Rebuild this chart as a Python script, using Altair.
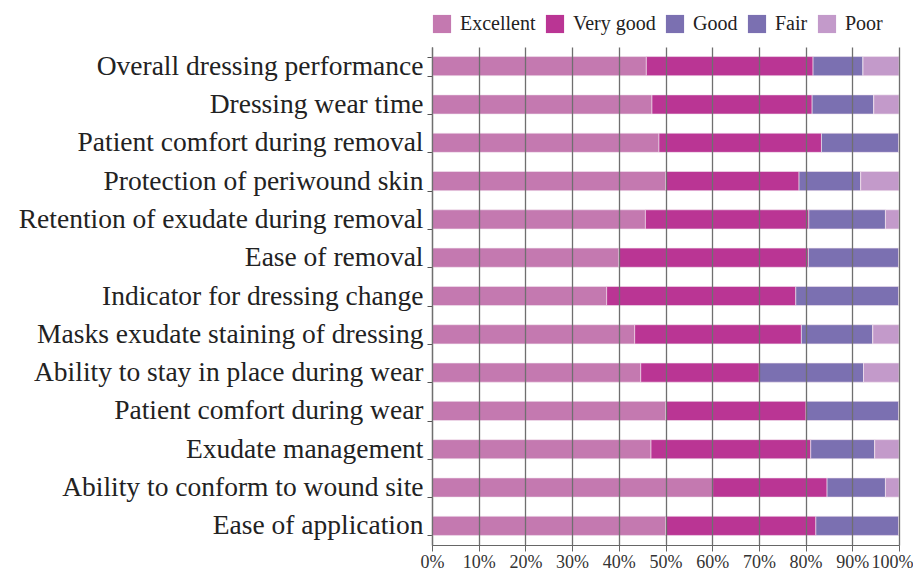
import altair as alt
import pandas as pd

categories = [
    "Overall dressing performance",
    "Dressing wear time",
    "Patient comfort during removal",
    "Protection of periwound skin",
    "Retention of exudate during removal",
    "Ease of removal",
    "Indicator for dressing change",
    "Masks exudate staining of dressing",
    "Ability to stay in place during wear",
    "Patient comfort during wear",
    "Exudate management",
    "Ability to conform to wound site",
    "Ease of application",
]
series = ["Excellent", "Very good", "Good", "Fair", "Poor"]
excellent = [45.9, 47.1, 48.6, 50.0, 45.7, 40.0, 37.4, 43.4, 44.7, 50.0, 46.9, 60.1, 50.0]
very_good = [35.7, 34.3, 34.8, 28.6, 35.0, 40.6, 40.5, 35.7, 25.4, 30.1, 34.2, 24.5, 32.2]
good = [10.7, 13.2, 16.6, 13.2, 16.4, 19.4, 22.1, 15.3, 22.3, 19.9, 13.7, 12.5, 17.8]
fair = [0, 0, 0, 0, 0, 0, 0, 0, 0, 0, 0, 0, 0]
poor = [7.7, 5.4, 0, 8.2, 2.9, 0, 0, 5.6, 7.6, 0, 5.2, 2.9, 0]
colors = ["#C479B0", "#BA3594", "#7B70B1", "#7B70B1", "#C39ACA"]

vals = [excellent, very_good, good, fair, poor]
rows = []
for si, s in enumerate(series):
    for ci, c in enumerate(categories):
        rows.append({"category": c, "rating": s, "order": si, "value": vals[si][ci] / 100})
df = pd.DataFrame(rows)

FONT = "Liberation Serif"

chart = alt.Chart(df).mark_bar(stroke="#f4e6f0", strokeWidth=0.6).encode(
    y=alt.Y(
        "category:N",
        sort=categories,
        title=None,
        scale=alt.Scale(paddingInner=0.5, paddingOuter=0.25),
        axis=alt.Axis(
            tickBand="extent",
            labelFont=FONT,
            labelFontSize=27.5,
            labelColor="#222",
            labelPadding=4,
            labelLimit=500,
            tickSize=5,
            tickColor="#555",
            domainColor="#555",
            domainWidth=1.2,
            grid=False,
        ),
    ),
    x=alt.X(
        "value:Q",
        stack="zero",
        title=None,
        scale=alt.Scale(domain=[0, 1], nice=False),
        axis=alt.Axis(
            values=[i / 10 for i in range(11)],
            format=".0%",
            labelFont=FONT,
            labelFontSize=18,
            labelColor="#333",
            labelFlush=False,
            labelOffset={"condition": {"test": "datum.value >= 1", "value": -7}, "value": 0},
            labelPadding=2,
            tickSize=6,
            tickColor="#666",
            domainColor="#666",
            domainWidth=1.2,
            grid=True,
            gridColor="#6f6f6f",
            gridWidth=1.3,
            zindex=1,
        ),
    ),
    color=alt.Color(
        "rating:N",
        sort=series,
        scale=alt.Scale(domain=series, range=colors),
        legend=alt.Legend(
            title=None,
            orient="none",
            direction="horizontal",
            legendX=0,
            legendY=-33,
            symbolType="square",
            symbolSize=330,
            symbolStrokeWidth=0,
            symbolOpacity=1,
            labelFont=FONT,
            labelFontSize=20,
            labelColor="#222",
            labelOffset=8,
            columnPadding=9,
        ),
    ),
    order=alt.Order("order:Q"),
).properties(
    width=467,
    height=498,
    autosize=alt.AutoSizeParams(type="none"),
    padding={"left": 424, "top": 39, "right": 14, "bottom": 28},
).configure_view(stroke=None)

chart.save("out.html", embed_options={"renderer": "svg", "actions": False})
